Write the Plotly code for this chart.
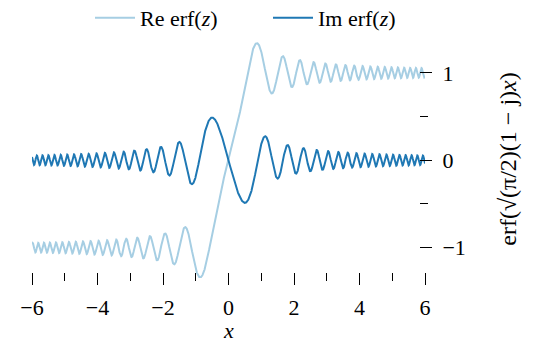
import numpy as np
import plotly.graph_objects as go

# x-axis sampling and tick layout
x_min, x_max = -6.0, 6.0
n_samples = 4001
x_major_ticks = [-6, -4, -2, 0, 2, 4, 6]
x_major_labels = ["−6", "−4", "−2", "0", "2", "4", "6"]
x_minor_ticks = [-5, -3, -1, 1, 3, 5]
y_major_ticks = [-1, 0, 1]
y_major_labels = ["−1", "0", "1"]
y_minor_ticks = [-0.5, 0.5]
series_names = ["Re erf(<i>z</i>)", "Im erf(<i>z</i>)"]
series_colors = ["#a6cee3", "#1f78b4"]
x_title = "<i>x</i>"
y_title = "erf(√(π/2)(1 − j)<i>x</i>)"

# erf(sqrt(pi/2)(1-j)x) = (1-j)(C(u) + jS(u)), u = sqrt(2) x, with C, S the Fresnel integrals
x = np.linspace(x_min, x_max, n_samples)
u_fine = np.linspace(0.0, np.sqrt(2) * x_max, 400001)
du = u_fine[1] - u_fine[0]
cos_part = np.cos(np.pi * u_fine**2 / 2)
sin_part = np.sin(np.pi * u_fine**2 / 2)
C_fine = np.concatenate([[0.0], np.cumsum((cos_part[1:] + cos_part[:-1]) / 2) * du])
S_fine = np.concatenate([[0.0], np.cumsum((sin_part[1:] + sin_part[:-1]) / 2) * du])
u = np.sqrt(2) * x
C = np.sign(u) * np.interp(np.abs(u), u_fine, C_fine)
S = np.sign(u) * np.interp(np.abs(u), u_fine, S_fine)
re_erf = C + S
im_erf = S - C

FONT = "Liberation Serif"
FS = 22

fig = go.Figure()
fig.add_trace(go.Scatter(x=x, y=re_erf, mode="lines", name=series_names[0], legend="legend",
                         line=dict(color=series_colors[0], width=2), cliponaxis=False))
fig.add_trace(go.Scatter(x=x, y=im_erf, mode="lines", name=series_names[1], legend="legend2",
                         line=dict(color=series_colors[1], width=2), cliponaxis=False))

# plot area: 32.3..425 px horizontally, 40..278.5 px vertically
W, H = 392.7, 238.5
y_range = [-1.347, 1.3756]
tick_common = dict(showgrid=False, zeroline=False, showline=False, ticklen=12, tickwidth=1,
                   tickcolor="black", automargin=False, anchor="free")
legend_common = dict(orientation="h", xref="container", yref="container", xanchor="left",
                     y=1 - 18 / 343, yanchor="middle", font=dict(size=FS), itemwidth=40,
                     bgcolor="rgba(0,0,0,0)")

fig.update_layout(
    width=547, height=343,
    margin=dict(l=32.3, r=122, t=40, b=64.5, autoexpand=False),
    plot_bgcolor="white", paper_bgcolor="white",
    font=dict(family=FONT, size=FS, color="black"),
    showlegend=True,
    legend=dict(x=90 / 547, **legend_common),
    legend2=dict(x=268 / 547, **legend_common),
    xaxis=dict(range=[x_min, x_max], tickvals=x_major_ticks, ticktext=x_major_labels,
               ticks="outside", position=6 / H, ticklabelstandoff=4,
               minor=dict(tickvals=x_minor_ticks, ticks="outside", ticklen=8,
                          tickcolor="black", showgrid=False),
               **tick_common),
    yaxis=dict(range=y_range, side="right", tickvals=y_major_ticks, ticktext=y_major_labels,
               ticks="outside", position=(W - 6) / W, ticklabelstandoff=6,
               minor=dict(tickvals=y_minor_ticks, ticks="outside", ticklen=8,
                          tickcolor="black", showgrid=False),
               title=dict(text=y_title, standoff=34, font=dict(size=24)), **tick_common),
)
# x-axis title placed below the tick labels
fig.add_annotation(text=x_title, x=0, xref="x", y=-(331 - 278.5) / H, yref="paper",
                   xanchor="center", yanchor="middle", showarrow=False,
                   font=dict(size=FS))

fig.write_html("out.html")
